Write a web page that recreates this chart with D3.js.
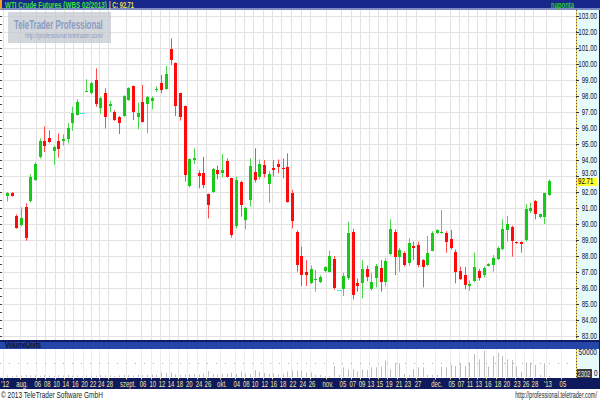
<!DOCTYPE html>
<html><head><meta charset="utf-8">
<script src="https://cdn.jsdelivr.net/npm/d3@7"></script>
<style>body{margin:0;background:#fff}svg{display:block}</style>
</head><body><svg id="c" width="600" height="400"></svg>
<script>
const opens  = [91.75,91.95,90.5,89.94,91.05,91.4,92.75,94.17,95.19,95.35,94.56,95.2,95.2,95.3,96.33,96.8,96.96,98.25,98.17,99.0,97.23,98.17,97.4,97.02,96.7,96.75,97.75,98.63,96.71,97.65,97.5,97.71,98.38,98.83,98.42,100.92,100.04,98.17,97.38,92.38,94.05,93.21,93.17,91.85,91.98,93.38,93.21,93.94,92.85,89.88,92.6,90.29,91.5,93.23,92.92,93.69,92.5,93.52,93.75,93.52,93.58,91.92,89.52,88.0,87.02,86.29,86.46,86.4,87.02,87.02,87.79,85.88,85.92,86.6,89.52,86.29,86.29,87.17,85.98,86.6,87.23,86.4,88.13,89.52,87.96,88.21,87.54,88.63,88.69,87.75,87.44,88.33,89.42,89.44,89.46,89.04,88.27,87.08,86.81,86.15,86.4,87.08,86.81,87.4,87.44,87.79,88.42,89.58,89.83,88.88,88.9,88.96,90.83,91.46,90.42,90.42,91.81];
const highs  = [92.0,92.0,90.6,91.04,91.3,93.1,93.85,95.35,96.1,95.85,94.9,95.67,95.6,96.3,97.33,97.8,96.96,99.05,98.9,99.73,97.95,98.48,97.7,97.1,96.75,98.05,98.55,98.65,97.58,98.69,98.0,97.98,98.6,99.31,99.88,101.6,100.1,98.2,97.4,94.1,94.73,93.35,94.2,91.9,93.5,93.65,94.38,94.1,92.9,92.96,92.7,91.05,94.1,94.73,94.04,94.0,93.3,94.0,94.04,94.1,94.42,92.13,89.6,88.58,87.75,87.4,87.13,86.8,87.35,88.33,88.0,85.88,86.95,90.15,89.7,86.6,87.75,87.4,86.96,87.5,87.75,87.85,90.29,89.67,88.5,88.3,89.1,88.9,88.9,87.8,89.25,89.55,89.67,90.88,89.55,89.63,88.4,87.33,87.33,86.46,88.21,87.2,87.35,87.55,88.06,88.6,90.29,90.5,89.9,88.9,88.92,91.25,91.33,91.5,90.65,91.95,92.79];
const lows   = [91.4,91.72,89.7,89.85,88.95,91.35,92.7,94.1,94.5,95.05,93.7,94.15,94.9,95.05,95.83,96.78,96.96,98.25,98.1,97.33,96.88,95.98,97.0,96.45,95.62,96.7,97.7,96.5,95.92,96.35,95.67,97.17,98.25,98.17,98.4,99.94,96.75,96.46,92.65,92.29,93.75,92.23,92.23,90.35,91.95,92.79,92.9,92.9,89.15,89.73,90.46,89.67,91.08,92.6,92.79,92.9,91.33,92.96,93.17,92.85,91.33,89.73,87.02,86.13,86.13,86.25,85.77,86.3,86.98,86.98,85.9,85.88,85.5,86.5,85.29,85.77,85.35,86.42,85.85,86.04,85.77,86.1,88.05,86.81,87.02,87.35,87.4,87.75,87.29,86.04,87.35,88.3,89.38,89.38,88.21,88.4,86.29,86.5,85.92,85.83,86.35,86.46,86.65,87.35,87.02,87.75,88.35,88.9,87.96,88.75,88.21,88.9,90.67,90.29,90.35,90.0,91.75];
const closes = [91.96,91.78,89.75,90.36,89.1,92.92,93.75,95.2,94.85,95.1,94.83,94.73,95.3,96.0,96.96,97.6,96.96,98.3,98.8,97.5,97.85,96.67,97.5,96.5,96.3,98.0,98.48,97.02,96.96,96.4,97.96,97.9,98.45,98.38,99.35,100.25,97.33,96.67,93.06,94.04,94.15,93.0,92.4,91.15,93.44,93.13,93.38,92.96,89.31,92.75,91.15,91.02,93.63,92.71,93.75,93.13,93.13,93.38,93.54,93.44,91.4,90.15,87.44,86.81,86.81,87.17,86.54,86.71,87.29,88.0,85.98,85.88,86.75,89.42,85.56,86.13,87.17,86.67,86.4,87.38,86.33,87.69,89.67,87.96,88.38,87.44,88.79,88.48,87.44,87.29,88.17,89.46,89.63,89.52,88.9,88.48,87.02,86.6,86.19,86.25,87.29,86.67,87.23,87.5,87.9,88.48,89.67,89.98,88.96,88.8,88.8,90.92,91.02,90.63,90.6,91.92,92.71];
const volumes = [3000,2000,3500,2500,4000,3000,3500,2500,4000,3000,2000,3500,3000,4000,2500,3000,1500,3500,3000,2500,4000,3000,3500,2000,3000,4000,3500,3000,4500,3500,4000,5000,4500,8700,8000,9000,5000,4000,4500,5500,6000,5000,7000,12000,6000,5000,6500,7000,8700,6000,10700,6700,6000,14000,10700,8000,6000,7000,5000,6500,10700,12600,12600,12600,8700,8700,4000,4000,2000,2000,22000,4000,19300,15300,15300,10700,15300,14000,19300,19300,20700,32700,15300,27300,27300,6000,4000,15300,19300,19300,4000,4000,4000,20700,19300,24000,22000,27300,22000,28700,46000,35300,52700,20700,42000,48700,42000,35300,34000,20700,10700,28700,28700,24000,4000,27300,2302];
const tickLabels = ["'12","aug.","06","08","10","14","16","20","22","24","28","szept.","06","10","12","14","18","20","24","26","okt.","04","08","10","12","16","18","22","24","26","nov.","05","07","09","13","15","19","21","23","27","dec.","05","07","11","13","16","18","20","23","26","28","'13","05"];
const tickPos = [-0.4,3.2,6.6,8.6,10.6,12.6,14.6,16.6,18.4,20.2,22.0,25.9,29.1,31.2,33.2,35.1,37.0,39.0,41.1,43.0,46.0,49.2,51.2,53.1,55.2,57.1,59.1,61.2,63.3,65.3,68.7,71.9,74.0,76.0,77.9,79.8,81.8,83.9,85.8,88.0,92.0,95.2,97.2,99.1,101.0,103.0,105.1,107.0,109.2,111.1,113.0,115.8,119.0];
const priceTicks = d3.range(83, 104);
const volTicks = [50000, 0];
const title = "WTI Crude Futures (WBS 02/2013)";
const lastLabel = "| C: 92.71";
const lastPrice = 92.71;
const lastVolume = 2302;

const svg = d3.select("#c");
const F = "'Liberation Sans',Arial,sans-serif";
const W = 600, PR = 576;
const x = d3.scaleLinear().domain([-1.5, 121.8]).range([0, PR]);
const y = d3.scaleLinear().domain([83, 103]).range([336, 16]);
const yv = d3.scaleLinear().domain([0, 50000]).range([377, 352]);

function label(parent, X, Y, s, o){
  const t = parent.append("text").attr("font-family",F).attr("font-size",o.size||8.5)
    .attr("font-weight",o.weight||"normal").attr("fill",o.fill).attr("text-anchor",o.anchor||"start").text(s);
  const w = t.node().getComputedTextLength();
  const f = o.width ? o.width / w : (o.f || 1);
  t.attr("transform", `translate(${X},${Y}) scale(${f.toFixed(3)},1)`);
  return t;
}

// backgrounds
svg.append("rect").attr("x",0).attr("y",0).attr("width",W).attr("height",400).attr("fill","#fff");
svg.append("rect").attr("x",PR).attr("y",10).attr("width",W-PR).attr("height",331).attr("fill","#e6fafa");
svg.append("rect").attr("x",PR).attr("y",349).attr("width",W-PR).attr("height",29).attr("fill","#e6fafa");

// main grid
const g = svg.append("g");
g.selectAll(".hg").data(priceTicks).join("line")
  .attr("x1",0).attr("x2",PR).attr("y1",d=>Math.round(y(d))+0.5).attr("y2",d=>Math.round(y(d))+0.5)
  .attr("stroke","#e2e2e2").attr("stroke-width",1);
g.selectAll(".vg").data(tickPos).join("line")
  .attr("x1",d=>Math.round(x(d))-1.5).attr("x2",d=>Math.round(x(d))-1.5).attr("y1",10).attr("y2",340)
  .attr("stroke","#e2e2e2").attr("stroke-width",1);
g.selectAll(".vvg").data(tickPos).join("line")
  .attr("x1",d=>Math.round(x(d))-1.5).attr("x2",d=>Math.round(x(d))-1.5).attr("y1",349).attr("y2",378)
  .attr("stroke","#ececec").attr("stroke-width",1);
g.append("line").attr("x1",0).attr("x2",PR).attr("y1",363.5).attr("y2",363.5)
  .attr("stroke","#b0b0b0").attr("stroke-dasharray","1,8");

// watermark
svg.append("rect").attr("x",8).attr("y",12).attr("width",103).attr("height",31).attr("fill","#c4c8ce").attr("opacity",0.75);
label(svg, 14, 29, "TeleTrader Professional", {size:12, weight:"bold", fill:"#8a9cc4", width:89});
label(svg, 25, 38, "http://professional.teletrader.com/", {size:6.5, fill:"#8a9cc4", width:78});

// left ticks
g.selectAll(".lt").data(d3.range(83, 103.5, 0.5)).join("line")
  .attr("x1",0).attr("x2",2).attr("y1",d=>Math.round(y(d))+0.5).attr("y2",d=>Math.round(y(d))+0.5)
  .attr("stroke","#444");

// candles
const idx = d3.range(opens.length);
const col = i => closes[i] > opens[i] ? "#19c819" : (closes[i] < opens[i] ? "#ff0a0a" : "#38e8f0");
const wcol = i => closes[i] > opens[i] ? "#4cd64c" : (closes[i] < opens[i] ? "#ff4a4a" : "#38e8f0");
const cg = svg.append("g");
cg.selectAll(".wick").data(idx).join("line")
  .attr("x1",i=>Math.round(x(i))+0.5).attr("x2",i=>Math.round(x(i))+0.5)
  .attr("y1",i=>y(highs[i])).attr("y2",i=>y(lows[i]))
  .attr("stroke",wcol).attr("stroke-width",1);
cg.selectAll(".body").data(idx).join("rect")
  .attr("x",i=>Math.round(x(i))-1).attr("width",3)
  .attr("y",i=>Math.round(y(Math.max(opens[i],closes[i]))))
  .attr("height",i=>Math.max(1, Math.round(Math.abs(y(opens[i])-y(closes[i])))))
  .attr("fill",col);
cg.selectAll(".doji").data(idx.filter(i=>opens[i]===closes[i])).join("rect")
  .attr("x",i=>Math.round(x(i))-2).attr("width",5).attr("y",i=>Math.round(y(closes[i]))).attr("height",1).attr("fill","#38e8f0");

// volume bars
svg.append("g").selectAll("line").data(idx).join("line")
  .attr("x1",i=>Math.round(x(i))+0.5).attr("x2",i=>Math.round(x(i))+0.5)
  .attr("y1",377).attr("y2",i=>Math.max(349, yv(volumes[i])))
  .attr("stroke","#bdbdbd").attr("stroke-width",1);

// right axis dotted lines
[[10,340],[349,378]].forEach(([a,b])=>{
  svg.append("line").attr("x1",PR+0.5).attr("x2",PR+0.5).attr("y1",a).attr("y2",b).attr("stroke","#e8c850").attr("stroke-width",1);
  svg.append("line").attr("x1",PR+0.5).attr("x2",PR+0.5).attr("y1",a).attr("y2",b).attr("stroke","#555").attr("stroke-dasharray","1,2");
});
const ax = svg.append("g");
ax.selectAll(".tk").data(priceTicks).join("line")
  .attr("x1",PR).attr("x2",PR+3).attr("y1",d=>Math.round(y(d))+0.5).attr("y2",d=>Math.round(y(d))+0.5).attr("stroke","#333");
priceTicks.forEach(d=>{
  const yy = Math.abs(d-lastPrice) < 0.6 ? y(d)-0.5 : y(d)+3;
  label(ax, 597, yy, d.toFixed(2), {fill:"#0a1040", anchor:"end", f:0.72});
});
svg.append("rect").attr("x",PR+1).attr("y",Math.round(y(lastPrice))-3).attr("width",20).attr("height",8).attr("fill","#ffff30");
label(svg, PR+2, y(lastPrice)+3.5, lastPrice.toFixed(2), {fill:"#000", f:0.72});

// volume axis
label(svg, 597, yv(volTicks[0])+3, volTicks[0], {fill:"#0a1040", anchor:"end", f:0.78});
label(svg, 597.5, 376, volTicks[1], {fill:"#0a1040", anchor:"end", f:0.75});
svg.append("rect").attr("x",PR+1).attr("y",369).attr("width",15).attr("height",9).attr("fill","#3c3c3c");
label(svg, PR+1.5, 376.5, lastVolume, {fill:"#e8e8e8", f:0.68});

// header
svg.append("rect").attr("x",0).attr("y",0).attr("width",W).attr("height",9).attr("fill","#17288a");
svg.append("rect").attr("x",0).attr("y",8).attr("width",W).attr("height",2).attr("fill","#7d8cc4");
svg.append("rect").attr("x",0).attr("y",0).attr("width",2).attr("height",9).attr("fill","#f0a020");
label(svg, 5, 7.5, title, {weight:"bold", fill:"#3ce03c", width:102});
label(svg, 109, 7.5, lastLabel, {weight:"bold", fill:"#e8e040", width:25});
label(svg, 574, 7.5, "naponta", {weight:"bold", fill:"#2ad02a", anchor:"end", width:23});

// volume header
svg.append("rect").attr("x",0).attr("y",340).attr("width",W).attr("height",9).attr("fill","#0e1c66");
svg.append("rect").attr("x",0).attr("y",342).attr("width",W).attr("height",7).attr("fill","#2446a8");
label(svg, 5, 348, "VolumeUnits", {weight:"bold", fill:"#0a0f30", width:36});

// date bar
svg.append("rect").attr("x",0).attr("y",378).attr("width",W).attr("height",11).attr("fill","#0f1a5c");
svg.selectAll(".dt").data(tickPos).join("line")
  .attr("x1",d=>Math.round(x(d))-1.5).attr("x2",d=>Math.round(x(d))-1.5).attr("y1",378).attr("y2",379.5).attr("stroke","#e8d890");
const dg = svg.append("g");
tickLabels.forEach((s,i)=> label(dg, x(tickPos[i]), 386.5, s, {fill:"#f0e4a8", anchor:"middle", f:0.7}));

// right border
svg.append("rect").attr("x",599).attr("y",10).attr("width",1).attr("height",368).attr("fill","#0f1a5c");

// footer
label(svg, 1, 398, "© 2013 TeleTrader Software GmbH", {fill:"#222", width:102});
label(svg, 597, 398, "http://professional.teletrader.com/", {fill:"#222", anchor:"end", width:82});
</script></body></html>
